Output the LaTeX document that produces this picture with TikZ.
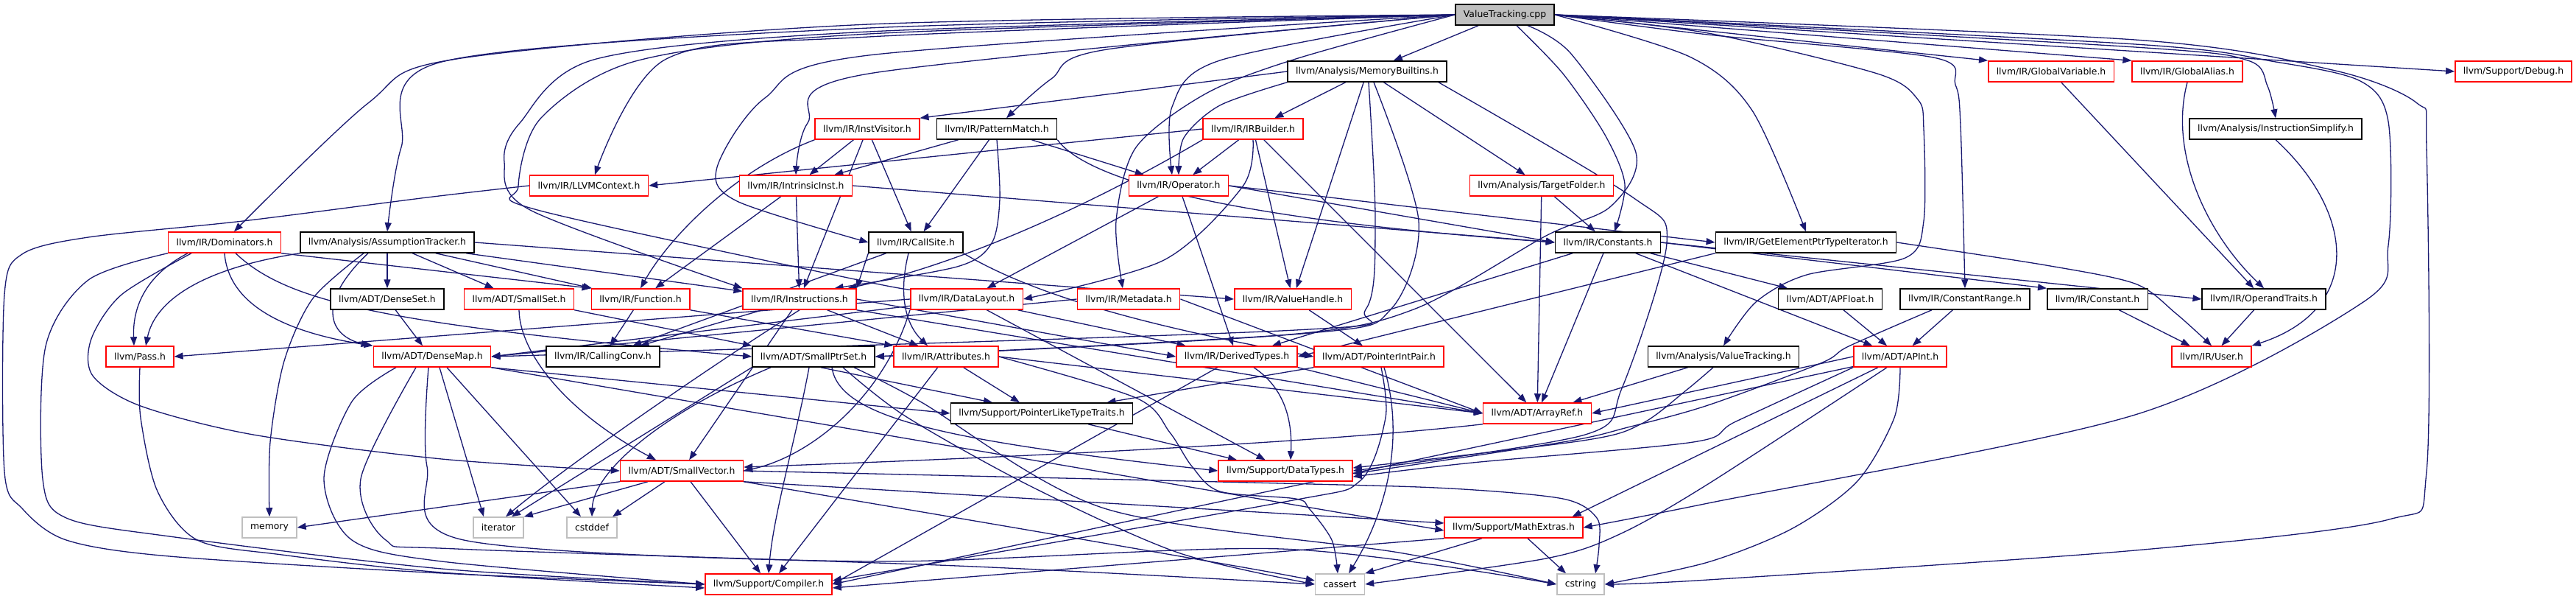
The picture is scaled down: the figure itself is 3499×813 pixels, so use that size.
\documentclass[tikz,border=0pt]{standalone}
\usepackage{fontspec}
\newfontfamily\dvs{DejaVu Sans}
\usetikzlibrary{arrows.meta}
\definecolor{edgec}{HTML}{191970}
\definecolor{rbor}{HTML}{FF0000}
\definecolor{gbor}{HTML}{BFBFBF}
\pgfdeclarelayer{bg}
\pgfsetlayers{bg,main}
\tikzset{
 nb/.style={draw, line width=1.5pt, minimum height=28pt, inner xsep=11pt, inner ysep=0pt, fill=white, text=black, font=\dvs\fontsize{12.4pt}{14pt}\selectfont},
 rbox/.style={nb, draw=rbor},
 kbox/.style={nb, draw=black},
 gbox/.style={nb, draw=gbor},
 root/.style={nb, draw=black, fill=gbor},
 conn/.style={draw=edgec, line width=1.3pt, -{Triangle[length=12pt,width=9pt]}},
}
\begin{document}
\begin{tikzpicture}[x=1pt,y=-1pt]
\useasboundingbox (0,0) rectangle (3499,813);
% nodes
\node[root] (VT) at (2044,20) {ValueTracking.cpp};
\node[kbox] (MB) at (1857,97) {llvm/Analysis/MemoryBuiltins.h};
\node[rbox] (GV) at (2786,97) {llvm/IR/GlobalVariable.h};
\node[rbox] (GA) at (2971,97) {llvm/IR/GlobalAlias.h};
\node[rbox] (Dbg) at (3414,97) {llvm/Support/Debug.h};
\node[rbox] (IV) at (1178,175) {llvm/IR/InstVisitor.h};
\node[kbox] (PM) at (1354,175) {llvm/IR/PatternMatch.h};
\node[rbox] (IRB) at (1702,175) {llvm/IR/IRBuilder.h};
\node[kbox] (IS) at (3091,175) {llvm/Analysis/InstructionSimplify.h};
\node[rbox] (Ctx) at (800,252) {llvm/IR/LLVMContext.h};
\node[rbox] (II) at (1081,252) {llvm/IR/IntrinsicInst.h};
\node[rbox] (Op) at (1601,252) {llvm/IR/Operator.h};
\node[rbox] (TF) at (2094,252) {llvm/Analysis/TargetFolder.h};
\node[rbox] (Dom) at (305,329) {llvm/IR/Dominators.h};
\node[kbox] (AT) at (526,329) {llvm/Analysis/AssumptionTracker.h};
\node[kbox] (CS) at (1244,329) {llvm/IR/CallSite.h};
\node[kbox] (Cs) at (2184,329) {llvm/IR/Constants.h};
\node[kbox] (GEP) at (2453,329) {llvm/IR/GetElementPtrTypeIterator.h};
\node[kbox] (DS) at (526,406) {llvm/ADT/DenseSet.h};
\node[rbox] (SS) at (705,406) {llvm/ADT/SmallSet.h};
\node[rbox] (Fn) at (870,406) {llvm/IR/Function.h};
\node[rbox] (Ins) at (1086,406) {llvm/IR/Instructions.h};
\node[rbox] (DL) at (1313,406) {llvm/IR/DataLayout.h};
\node[rbox] (Md) at (1533,406) {llvm/IR/Metadata.h};
\node[rbox] (VH) at (1756,406) {llvm/IR/ValueHandle.h};
\node[kbox] (APF) at (2486,406) {llvm/ADT/APFloat.h};
\node[kbox] (CR) at (2669,406) {llvm/IR/ConstantRange.h};
\node[kbox] (Cn) at (2849,406) {llvm/IR/Constant.h};
\node[kbox] (OT) at (3075,406) {llvm/IR/OperandTraits.h};
\node[rbox] (Pass) at (190,484) {llvm/Pass.h};
\node[rbox] (DM) at (587,484) {llvm/ADT/DenseMap.h};
\node[kbox] (CC) at (819,484) {llvm/IR/CallingConv.h};
\node[kbox] (SPS) at (1105,484) {llvm/ADT/SmallPtrSet.h};
\node[rbox] (Attr) at (1285,484) {llvm/IR/Attributes.h};
\node[rbox] (DerT) at (1680,484) {llvm/IR/DerivedTypes.h};
\node[rbox] (PIP) at (1873,484) {llvm/ADT/PointerIntPair.h};
\node[kbox] (VTH) at (2341,484) {llvm/Analysis/ValueTracking.h};
\node[rbox] (API) at (2581,484) {llvm/ADT/APInt.h};
\node[rbox] (User) at (3004,484) {llvm/IR/User.h};
\node[kbox] (PLTT) at (1415,561) {llvm/Support/PointerLikeTypeTraits.h};
\node[rbox] (AR) at (2088,561) {llvm/ADT/ArrayRef.h};
\node[rbox] (SV) at (926,639) {llvm/ADT/SmallVector.h};
\node[rbox] (DTs) at (1746,639) {llvm/Support/DataTypes.h};
\node[gbox] (mem) at (366,716) {memory};
\node[gbox] (it) at (677,716) {iterator};
\node[gbox] (cstddef) at (804,716) {cstddef};
\node[rbox] (ME) at (2056,716) {llvm/Support/MathExtras.h};
\node[rbox] (Comp) at (1044,793) {llvm/Support/Compiler.h};
\node[gbox] (cassert) at (1820,793) {cassert};
\node[gbox] (cstring) at (2147,793) {cstring};
\begin{pgfonlayer}{bg}
% ValueTracking.cpp
\draw[conn] (VT) -- (MB);
\draw[conn] (VT.east) -- (GV.north west);
\draw[conn] (VT.east) -- (GA.north west);
\draw[conn] (VT.east) -- (Dbg.west);
\draw[conn] plot[smooth,tension=0.5] coordinates {(VT.east) (2900,64) (3053,82) (3080,117) (IS.north)};
\draw[conn] plot[smooth,tension=0.5] coordinates {(VT.east) (2320,45) (2550,100) (2605,135) (2613,175) (2613,300) (2588,350) (2454,373) (2385,410) (VTH.north)};
\draw[conn] plot[smooth,tension=0.5] coordinates {(VT.east) (2320,47) (2626,78) (2656,115) (2663,170) (CR.north)};
\draw[conn] plot[smooth,tension=0.5] coordinates {(VT.east) (2295,77) (2380,150) (GEP.north)};
\draw[conn] plot[smooth,tension=0.5] coordinates {(VT.east) (2900,60) (3091,84) (3206,110) (3244,165) (3244,333) (3210,410) (2900,563) (2320,683) (ME.east)};
\draw[conn] plot[smooth,tension=0.5] coordinates {(VT.east) (2900,54) (3168,95) (3283,140) (3296,200) (3296,640) (3245,705) (2900,747) (2320,787) (cstring.east)};
\draw[conn] plot[smooth,tension=0.5] coordinates {([xshift=16pt]VT.south) (2123,100) (2180,183) (2207,250) ([xshift=9pt]Cs.north)};
\draw[conn] plot[smooth,tension=0.5] coordinates {([xshift=31pt]VT.south) (2134,73) (2222,207) (2188,280) (2100,320) (1920,420) (1740,455) (SPS.east)};
\draw[conn] plot[smooth,tension=0.5] coordinates {(VT.west) (1180,33) (620,80) (500,140) ([xshift=13pt]Dom.north)};
\draw[conn] plot[smooth,tension=0.5] coordinates {(VT.west) (1180,38) (600,84) (545,200) (AT.north)};
\draw[conn] plot[smooth,tension=0.5] coordinates {(VT.west) (1180,50) (905,80) ([xshift=8pt]Ctx.north)};
\draw[conn] plot[smooth,tension=0.5] coordinates {(VT.west) (1180,43) (810,80) (706,167) (685,220) (720,285) (Ins.north west)};
\draw[conn] plot[smooth,tension=0.5] coordinates {(VT.west) (1180,46) (867,82) (735,160) (704,253) (730,285) (1180,383) (DL.north west)};
\draw[conn] plot[smooth,tension=0.5] coordinates {(VT.west) (1504,67) (1428,107) ([xshift=13pt]PM.north)};
\draw[conn] plot[smooth,tension=0.5] coordinates {(VT.west) (1180,100) (1097,167) (II.north)};
\draw[conn] plot[smooth,tension=0.5] coordinates {(VT.west) (1657,82) (1592,145) ([xshift=-9pt]Op.north)};
\draw[conn] plot[smooth,tension=0.5] coordinates {(VT.west) (1180,75) (1039,133) (974,227) (1001,273) (CS.west)};
\draw[conn] plot[smooth,tension=0.5] coordinates {(VT.west) (1760,80) (1638,127) (1543,200) (1516,300) ([xshift=-8pt]Md.north)};
% MemoryBuiltins
\draw[conn] (MB.west) -- (IV.north east);
\draw[conn] (MB) -- (IRB);
\draw[conn] (MB) -- (VH);
\draw[conn] (MB) -- (TF);
\draw[conn] plot[smooth,tension=0.5] coordinates {(MB.south west) (1657,143) (1608,187) (Op.north)};
\draw[conn] plot[smooth,tension=0.5] coordinates {([xshift=2pt]MB.south) (1868,300) (1855,420) (1760,448) (DM.east)};
\draw[conn] plot[smooth,tension=0.5] coordinates {([xshift=9pt]MB.south) (1927,300) (1889,420) (1780,452) (SPS.east)};
\draw[conn] plot[smooth,tension=0.5] coordinates {([xshift=97pt]MB.south) (2218,268) (2264,330) (2203,527) (2153,590) (DTs.east)};
% IRBuilder
\draw[conn] (IRB.west) -- (Ctx.east);
\draw[conn] (IRB.south west) .. controls (1480,280) and (1300,360) .. ([xshift=-12pt]Ins.north east);
\draw[conn] (IRB) -- (Op);
\draw[conn] plot[smooth,tension=0.5] coordinates {(IRB.south) (1688,253) (1581,353) (DL.east)};
\draw[conn] (IRB) -- (VH);
\draw[conn] (IRB) -- (AR);
% InstVisitor
\draw[conn] (IV.south west) .. controls (1000,230) and (910,320) .. (Fn.north);
\draw[conn] (IV) -- (II);
\draw[conn] (IV) -- (Ins);
\draw[conn] (IV) -- (CS);
% PatternMatch
\draw[conn] (PM) -- (II);
\draw[conn] (PM) -- (CS);
\draw[conn] plot[smooth,tension=0.5] coordinates {(PM.south) (1358,270) (1347,330) (1300,362) ([xshift=-30pt]Ins.north east)};
\draw[conn] (PM.south east) .. controls (1480,250) and (1700,300) .. (Cs.west);
\draw[conn] (PM) -- (Op);
% IntrinsicInst
\draw[conn] (II) -- (Fn);
\draw[conn] (II) -- (Ins);
\draw[conn] (II.east) -- (Cs.west);
% LLVMContext
\draw[conn] plot[smooth,tension=0.5] coordinates {(Ctx.west) (580,268) (330,300) (120,322) (30,345) (6,400) (6,640) (30,690) (90,733) (230,755) (600,778) (Comp.west)};
% Operator
\draw[conn] (Op) -- (DL);
\draw[conn] (Op) -- (DerT);
\draw[conn] (Op.east) -- (Cs.west);
\draw[conn] (Op.east) -- (GEP.west);
% TargetFolder
\draw[conn] (TF) -- (Cs);
\draw[conn] (TF) -- (AR);
% Dominators
\draw[conn] plot[smooth,tension=0.5] coordinates {(Dom.south west) (120,380) (62,470) (58,650) (90,703) (230,728) (600,772) (Comp.west)};
\draw[conn] plot[smooth,tension=0.5] coordinates {([xshift=-45pt]Dom.south) (165,400) (124,460) (126,510) (191,551) (344,590) (600,623) (SV.west)};
\draw[conn] ([xshift=-50pt]Dom.south) .. controls (195,375) and (180,420) .. ([xshift=-8pt]Pass.north);
\draw[conn] (Dom.south) .. controls (310,410) and (380,450) .. (DM.north west);
\draw[conn] ([xshift=15pt]Dom.south) .. controls (390,410) and (520,440) .. (SPS.west);
\draw[conn] (Dom.south east) -- (Fn.north west);
% AssumptionTracker
\draw[conn] (AT.south west) .. controls (270,365) and (210,410) .. ([xshift=8pt]Pass.north);
\draw[conn] plot[smooth,tension=0.5] coordinates {([xshift=-32pt]AT.south) (425,405) (386,490) (367,600) (mem.north)};
\draw[conn] ([xshift=-26pt]AT.south) .. controls (430,410) and (445,455) .. ([xshift=-4pt]DM.north west);
\draw[conn] (AT) -- (DS);
\draw[conn] (AT) -- (SS);
\draw[conn] (AT) -- (Fn);
\draw[conn] (AT) -- (Ins);
\draw[conn] (AT.east) -- (VH.west);
% DenseSet, SmallSet, Function
\draw[conn] (DS) -- ([xshift=-13pt]DM.north);
\draw[conn] (SS.south) .. controls (706,480) and (770,560) .. ([xshift=-35pt]SV.north);
\draw[conn] (SS.south east) -- (SPS.north west);
\draw[conn] (Fn) -- (CC);
\draw[conn] (Fn.south east) -- (Attr.north west);
% Instructions
\draw[conn] (Ins) -- (CC);
\draw[conn] (Ins.south) .. controls (930,520) and (760,640) .. ([xshift=10pt]it.north);
\draw[conn] (Ins) -- (SV);
\draw[conn] (Ins) -- (Attr);
\draw[conn] (Ins.east) -- (DerT.west);
\draw[conn] (Ins.south east) -- (AR.west);
% CallSite
\draw[conn] (CS.south west) -- (Ins.north east);
\draw[conn] (CS) -- (CC);
\draw[conn] ([xshift=-10pt]CS.south) .. controls (1220,400) and (1230,440) .. ([xshift=-25pt]Attr.north);
\draw[conn] (CS.south east) .. controls (1420,410) and (1600,450) .. (PIP.west);
% DataLayout
\draw[conn] (DL.west) -- (Pass.east);
\draw[conn] (DL) -- (DM.east);
\draw[conn] (DL.south west) .. controls (1200,540) and (1100,620) .. (SV.east);
\draw[conn] (DL) -- (DerT);
\draw[conn] (DL) -- (DTs);
% Metadata, ValueHandle
\draw[conn] (Md.west) -- (DM.east);
\draw[conn] (Md.east) -- (AR.west);
\draw[conn] (VH) -- (PIP);
% Constants
\draw[conn] (Cs.east) -- (Cn.north west);
\draw[conn] (Cs.east) -- (OT.west);
\draw[conn] (Cs) -- (APF);
\draw[conn] (Cs) -- (API);
\draw[conn] (Cs) -- (DerT);
\draw[conn] (Cs) -- (AR);
% GEP, globals, simplify
\draw[conn] (GEP.south west) -- (DerT.east);
\draw[conn] plot[smooth,tension=0.5] coordinates {(GEP.east) (2779,360) (2900,385) (2955,425) (User.north)};
\draw[conn] (GV) -- (OT);
\draw[conn] (GA.south) .. controls (2945,210) and (3000,320) .. (OT.north);
\draw[conn] (IS.south) .. controls (3200,290) and (3210,420) .. (User.north east);
\draw[conn] (OT) -- (User);
\draw[conn] (Cn) -- (User);
% ConstantRange, APFloat, ValueTracking.h
\draw[conn] (CR) -- (API);
\draw[conn] plot[smooth,tension=0.5] coordinates {([xshift=-45pt]CR.south) (2511,470) (2473,493) (2320,550) (2211,580) (2123,600) ([yshift=-4pt]DTs.east)};
\draw[conn] (APF) -- (API);
\draw[conn] (VTH) -- (AR);
\draw[conn] plot[smooth,tension=0.5] coordinates {([xshift=-14pt]VTH.south) (2290,530) (2230,575) (2150,598) ([yshift=4pt]DTs.east)};
% APInt
\draw[conn] (API.west) -- (AR.east);
\draw[conn] plot[smooth,tension=0.5] coordinates {(API.south west) (2358,572) (2300,600) (2000,628) ([yshift=-8pt]DTs.east)};
\draw[conn] (API) -- ([xshift=-15pt]ME.north east);
\draw[conn] (API) -- (Comp.east);
\draw[conn] plot[smooth,tension=0.5] coordinates {([xshift=-18pt]API.south) (2320,657) (2200,725) (2100,758) (cassert.east)};
\draw[conn] plot[smooth,tension=0.5] coordinates {(API.south) (2573,567) (2523,653) (2435,717) (2320,763) (cstring.east)};
% SmallPtrSet
\draw[conn] (SPS.south west) -- ([xshift=18pt]it.north);
\draw[conn] ([xshift=-58pt]SPS.south) .. controls (900,560) and (806,640) .. (cstddef.north);
\draw[conn] ([xshift=-6pt]SPS.south) .. controls (1080,600) and (1050,700) .. (Comp.north);
\draw[conn] ([xshift=10pt]SPS.south) -- ([xshift=-67pt]PLTT.north);
\draw[conn] ([xshift=25pt]SPS.south) .. controls (1140,570) and (1300,600) .. (DTs.west);
\draw[conn] plot[smooth,tension=0.5] coordinates {([xshift=40pt]SPS.south) (1230,565) (1400,660) (1600,750) (cassert.west)};
\draw[conn] plot[smooth,tension=0.5] coordinates {([xshift=55pt]SPS.south) (1250,545) (1500,690) (1900,750) (cstring.west)};
% DenseMap
\draw[conn] ([xshift=10pt]DM.south) -- ([xshift=-20pt]it.north);
\draw[conn] ([xshift=20pt]DM.south) -- ([xshift=-15pt]cstddef.north);
\draw[conn] (DM.south east) -- (PLTT.west);
\draw[conn] (DM.south east) -- ([yshift=-4pt]ME.west);
\draw[conn] plot[smooth,tension=0.5] coordinates {([xshift=-49pt]DM.south) (478,545) (440,650) (478,733) (600,762) (Comp.west)};
\draw[conn] plot[smooth,tension=0.5] coordinates {([xshift=-22pt]DM.south) (490,650) (524,733) (620,745) (1300,768) (cassert.west)};
\draw[conn] plot[smooth,tension=0.5] coordinates {([xshift=-5pt]DM.south) (580,633) (630,733) (1180,762) (1740,745) (cstring.west)};
% SmallVector
\draw[conn] (SV.south west) -- (mem.east);
\draw[conn] ([xshift=-46pt]SV.south) -- (it.north east);
\draw[conn] ([xshift=-23pt]SV.south) -- ([xshift=28pt]cstddef.north);
\draw[conn] ([xshift=12pt]SV.south) -- ([xshift=-11pt]Comp.north);
\draw[conn] (SV.south east) -- ([yshift=6pt]ME.west);
\draw[conn] plot[smooth,tension=0.5] coordinates {(SV.east) (1740,656) (1970,663) (2123,677) (2169,703) (2172,740) ([xshift=20pt]cstring.north)};
\draw[conn] plot[smooth,tension=0.5] coordinates {(SV.south east) (1400,720) (1700,772) ([yshift=5pt]cassert.west)};
% Attributes
\draw[conn] (Attr.east) -- (AR.west);
\draw[conn] (Attr) -- ([xshift=-30pt]PLTT.north);
\draw[conn] (Attr) -- ([xshift=14pt]Comp.north);
\draw[conn] plot[smooth,tension=0.5] coordinates {(Attr.east) (1543,540) (1589,587) (1619,633) (1657,667) (1760,677) (1778,690) (1809,733) ([xshift=-3pt]cassert.north)};
% DerivedTypes
\draw[conn] (DerT) -- (Comp.east);
\draw[conn] ([xshift=23pt]DerT.south) .. controls (1750,530) and (1755,580) .. ([xshift=7pt]DTs.north);
\draw[conn] (DerT.south east) -- (AR.west);
% PointerIntPair
\draw[conn] (PIP.south west) -- ([xshift=-36pt]PLTT.north east);
\draw[conn] plot[smooth,tension=0.5] coordinates {([xshift=3pt]PIP.south) (1882,567) (1847,653) (1740,682) ([yshift=5pt]Comp.east)};
\draw[conn] ([xshift=7pt]PIP.south) .. controls (1910,600) and (1880,700) .. ([xshift=12pt]cassert.north);
% remaining
\draw[conn] ([xshift=63pt]PLTT.south) -- ([xshift=-66pt]DTs.north);
\draw[conn] (AR.south west) .. controls (1800,600) and (1400,620) .. ([yshift=5pt]SV.east);
\draw[conn] (ME.south west) -- ([yshift=-5pt]Comp.east);
\draw[conn] ([xshift=-43pt]ME.south) -- (cassert.north east);
\draw[conn] ([xshift=19pt]ME.south) -- ([xshift=-20pt]cstring.north);
\draw[conn] plot[smooth,tension=0.5] coordinates {(Pass.south) (191,567) (214,667) (268,733) (383,753) (600,777) ([yshift=-5pt]Comp.west)};
\end{pgfonlayer}
\end{tikzpicture}
\end{document}
